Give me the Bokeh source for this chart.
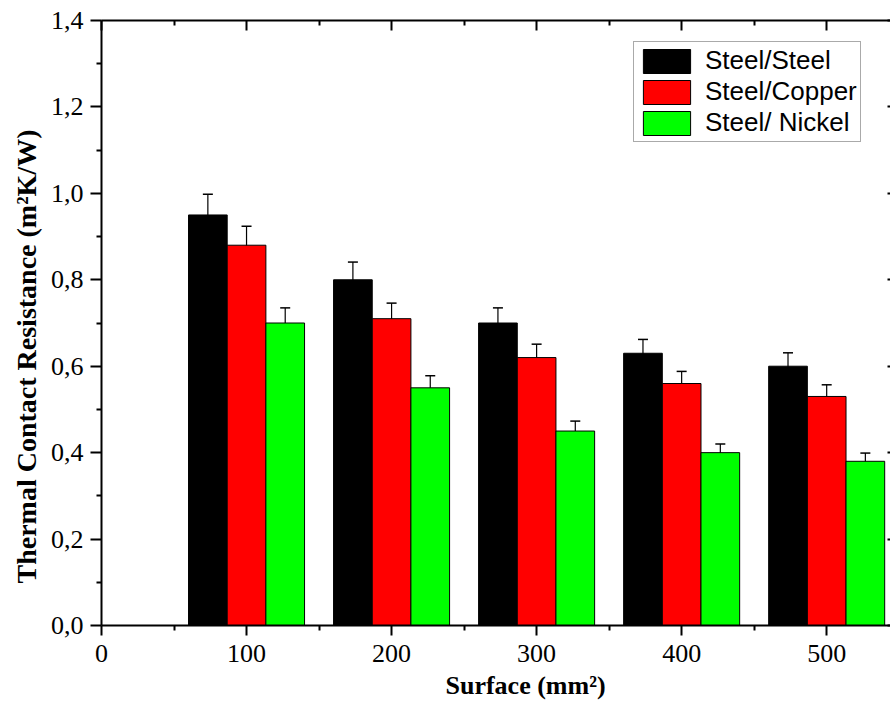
from bokeh.plotting import figure
from bokeh.models import (ColumnDataSource, Range1d, LinearAxis, FixedTicker, Title,
                          CustomJSTickFormatter, Whisker, TeeHead, Legend, LegendItem)
from bokeh.transform import dodge
from bokeh.embed import file_html
from bokeh.resources import INLINE

# ---- data ----
surfaces = [100, 200, 300, 400, 500]
steel_steel = [0.95, 0.80, 0.70, 0.63, 0.60]
steel_copper = [0.88, 0.71, 0.62, 0.56, 0.53]
steel_nickel = [0.70, 0.55, 0.45, 0.40, 0.38]
err_steel = [0.048, 0.041, 0.035, 0.032, 0.031]
err_copper = [0.044, 0.036, 0.031, 0.028, 0.027]
err_nickel = [0.035, 0.028, 0.023, 0.020, 0.019]
series_names = ["Steel/Steel", "Steel/Copper", "Steel/ Nickel"]
series_colors = ["#000000", "#FF0000", "#00FF00"]
x_major_ticks = [0, 100, 200, 300, 400, 500]
x_minor_ticks = [50, 150, 250, 350, 450, 550]
y_major_ticks = [0.0, 0.2, 0.4, 0.6, 0.8, 1.0, 1.2, 1.4]
y_minor_ticks = [0.1, 0.3, 0.5, 0.7, 0.9, 1.1, 1.3]
x_title = "Surface  (mm\u00b2)"
y_title = "Thermal Contact Resistance (m\u00b2K/W)"

bar_w = 80.0 / 3.0

src = ColumnDataSource(dict(
    x=surfaces,
    s0=steel_steel, s1=steel_copper, s2=steel_nickel,
    s0_hi=[v + e for v, e in zip(steel_steel, err_steel)],
    s0_lo=[v - e for v, e in zip(steel_steel, err_steel)],
    s1_hi=[v + e for v, e in zip(steel_copper, err_copper)],
    s1_lo=[v - e for v, e in zip(steel_copper, err_copper)],
    s2_hi=[v + e for v, e in zip(steel_nickel, err_nickel)],
    s2_lo=[v - e for v, e in zip(steel_nickel, err_nickel)],
))

p = figure(width=890, height=709, output_backend="svg", toolbar_location=None,
           x_range=Range1d(0, 544), y_range=Range1d(0, 1.4),
           min_border_left=101, min_border_right=0, min_border_top=20, min_border_bottom=84,
           x_axis_location=None, y_axis_location=None)
p.outline_line_color = None
p.xgrid.visible = False
p.ygrid.visible = False
p.background_fill_color = "white"
p.border_fill_color = "white"

offsets = [-bar_w, 0.0, bar_w]
renderers = []
for i in range(3):
    r = p.vbar(x=dodge("x", offsets[i]), top="s%d" % i, width=bar_w, bottom=0, source=src,
               fill_color=series_colors[i], line_color="black", line_width=1)
    renderers.append(r)
    wk = Whisker(base=dodge("x", offsets[i]), upper="s%d_hi" % i, lower="s%d_lo" % i,
                 source=src, line_color="black", line_width=1.2,
                 upper_head=TeeHead(size=10, line_color="black", line_width=1.5),
                 lower_head=TeeHead(size=10, line_color="black", line_width=1.5))
    p.add_layout(wk)


def xticker():
    return FixedTicker(ticks=x_major_ticks, minor_ticks=x_minor_ticks)


def yticker():
    return FixedTicker(ticks=y_major_ticks, minor_ticks=y_minor_ticks)


serif = "Liberation Serif"

xaxis = LinearAxis(ticker=xticker())
yaxis = LinearAxis(ticker=yticker(),
                   formatter=CustomJSTickFormatter(code="return tick.toFixed(1).replace('.', ',');"))
for ax in (xaxis, yaxis):
    ax.axis_line_width = 2
    ax.axis_line_color = "black"
    ax.major_tick_line_width = 2
    ax.minor_tick_line_width = 2
    ax.major_tick_in = 0
    ax.major_tick_out = 10
    ax.minor_tick_in = 0
    ax.minor_tick_out = 5
    ax.major_label_text_font = serif
    ax.major_label_text_font_size = "26px"
    ax.major_label_text_color = "black"
yaxis.major_tick_out = 11
xaxis.major_label_standoff = 9
yaxis.major_label_standoff = 7
p.add_layout(xaxis, "below")
p.add_layout(yaxis, "left")

# axis titles (placed off-centre as in the reference)
xt = Title(text=x_title, align="left", offset=344, standoff=8,
           text_font=serif, text_font_size="26px", text_font_style="bold", text_color="black")
p.add_layout(xt, "below")
yt = Title(text=y_title, align="left", offset=42, standoff=12,
           text_font=serif, text_font_size="28px", text_font_style="bold", text_color="black")
p.add_layout(yt, "left")

top_axis = LinearAxis(ticker=xticker(), formatter=CustomJSTickFormatter(code="return '';"))
top_axis.axis_line_width = 2
top_axis.major_tick_line_width = 2
top_axis.minor_tick_line_width = 2
top_axis.major_tick_in = 10
top_axis.major_tick_out = 0
top_axis.minor_tick_in = 5
top_axis.minor_tick_out = 0
top_axis.major_label_text_font_size = "0px"
top_axis.major_label_standoff = 0
p.add_layout(top_axis, "above")

right_axis = LinearAxis(ticker=yticker(), formatter=CustomJSTickFormatter(code="return '';"))
right_axis.axis_line_color = None
right_axis.major_tick_line_width = 2
right_axis.major_tick_in = 3
right_axis.major_tick_out = 0
right_axis.minor_tick_in = 0
right_axis.minor_tick_out = 0
right_axis.major_label_text_font_size = "0px"
right_axis.major_label_standoff = 0
p.add_layout(right_axis, "right")

legend = Legend(items=[LegendItem(label=series_names[i], renderers=[renderers[i]]) for i in range(3)],
                location=(532, 483), margin=0, padding=3, spacing=0,
                glyph_width=59, glyph_height=30, label_height=30, label_standoff=9,
                label_text_font="Liberation Sans", label_text_font_size="26px",
                label_text_color="black",
                border_line_color="#555555", border_line_width=1.5,
                background_fill_color="white", background_fill_alpha=1.0)
p.add_layout(legend, "center")

open("out.html", "w").write(file_html(p, INLINE))
